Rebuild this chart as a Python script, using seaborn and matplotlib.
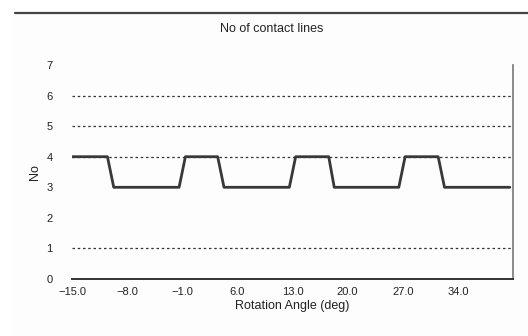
import matplotlib
matplotlib.use("Agg")
import matplotlib.pyplot as plt
from matplotlib.lines import Line2D
from matplotlib.patches import Rectangle
import seaborn as sns
import pandas as pd

# Number of teeth pairs in contact versus rotation angle
angle_deg = [-15.0, -10.5, -9.7, -1.4, -0.6, 3.5, 4.3, 12.6, 13.4,
             17.6, 18.3, 26.5, 27.3, 31.5, 32.3, 40.6]
contact_lines = [4, 4, 3, 3, 4, 4, 3, 3, 4, 4, 3, 3, 4, 4, 3, 3]

x_ticks = [-15, -8, -1, 6, 13, 20, 27, 34]
y_ticks = [0, 1, 2, 3, 4, 5, 6, 7]
grid_levels = [1, 4, 5, 6]

sns.set_theme(style="white")
plt.rcParams["font.family"] = ["Liberation Sans", "DejaVu Sans"]

fig = plt.figure(figsize=(5.28, 3.36), dpi=100)
fig.patch.set_facecolor("white")

# light panel and header rule
fig.add_artist(Rectangle((12 / 528, 0), 1 - 12 / 528, 1 - 13 / 336,
                         transform=fig.transFigure, facecolor="#fdfdfd",
                         edgecolor="none", zorder=0))
fig.add_artist(Line2D([15 / 528, 1.0], [1 - 13 / 336, 1 - 13 / 336],
                      transform=fig.transFigure, color="#444444", lw=1.6))

ax = fig.add_axes([72 / 528, 1 - 279 / 336, (513 - 72) / 528, (279 - 65) / 336])
ax.set_facecolor("#fdfdfd")

df = pd.DataFrame({"angle": angle_deg, "lines": contact_lines})
for lvl in grid_levels:
    ax.axhline(lvl, color="#333333", lw=0.9, ls=(0, (2, 2.2)), zorder=1)

sns.lineplot(data=df, x="angle", y="lines", ax=ax, color="#383838",
             lw=2.0, zorder=3, estimator=None, sort=False)

ax.set_xlim(-15, 41)
ax.set_ylim(0, 7)
ax.set_xticks(x_ticks)
ax.set_xticklabels([f"{t:.1f}".replace("-", "\u2212") for t in x_ticks])
ax.set_yticks(y_ticks)
ax.set_yticklabels([str(t) for t in y_ticks])

for side in ["left", "top"]:
    ax.spines[side].set_visible(False)
ax.spines["bottom"].set_color("#333333")
ax.spines["bottom"].set_linewidth(1.4)
ax.spines["right"].set_color("#777777")
ax.spines["right"].set_linewidth(1.2)

ax.tick_params(axis="x", direction="in", length=3, width=0.8, color="#333333",
               labelsize=8, pad=6, labelcolor="#222222")
ax.tick_params(axis="y", length=0, labelsize=8, pad=14, labelcolor="#222222")

ax.set_xlabel("Rotation Angle (deg)", fontsize=9, color="#222222", labelpad=2)
ax.set_ylabel("No", fontsize=9, color="#222222", labelpad=4)
fig.text(272 / 528, 1 - 29 / 336, "No of contact lines", ha="center",
         va="center", fontsize=9, color="#222222")

fig.savefig("out.png", dpi=100)
